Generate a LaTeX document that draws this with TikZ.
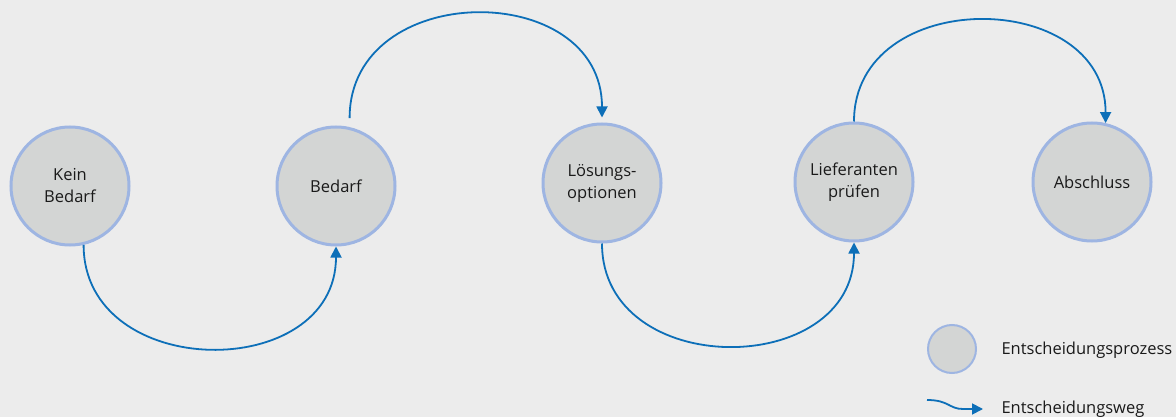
\documentclass[tikz,border=0pt]{standalone}
\usepackage{fontspec}
\setmainfont{Open Sans}
\usetikzlibrary{arrows.meta, calc}

\definecolor{bggray}{HTML}{ECECEC}
\definecolor{phasefill}{HTML}{D3D5D4}
\definecolor{phaseline}{HTML}{9EB5E2}
\definecolor{wegblue}{HTML}{0D6FB8}
\definecolor{textgray}{HTML}{1A1A1A}

\begin{document}
\begin{tikzpicture}[x=1pt, y=-1pt,
    phase/.style={circle, draw=phaseline, fill=phasefill, line width=3pt, minimum size=118pt, inner sep=0pt,
                  align=center, text=textgray, font=\fontsize{16.5}{22}\selectfont},
    weg/.style={draw=wegblue, line width=1.8pt, -{Triangle[length=11pt, width=11pt]}},
    legtext/.style={anchor=west, text=textgray, font=\fontsize{16.5}{22}\selectfont}]
    \useasboundingbox (0,0) rectangle (1176,417);
    \fill[bggray] (0,0) rectangle (1176,417);
    \node[phase] (kb) at (70,186) {Kein\\Bedarf};
    \node[phase] (bd) at (336,186) {Bedarf};
    \node[phase] (lo) at (602,183) {Lösungs-\\optionen};
    \node[phase] (li) at (854,182) {Lieferanten\\prüfen};
    \node[phase] (ab) at (1092,182) {Abschluss};
    \draw[weg] (kb.-77) .. controls +(0,137) and +(0,137) .. (bd.south);
    \draw[weg] ([yshift=9pt]bd.77) .. controls +(0,-139) and +(0,-139) .. ([yshift=5pt]lo.north);
    \draw[weg] (lo.south) .. controls +(0,137) and +(0,137) .. (li.south);
    \draw[weg] (li.north) .. controls +(0,-136) and +(0,-136) .. (ab.77);
    % Legende
    \node[phase, minimum size=48pt, line width=2pt] (lgk) at (952,349) {};
    \node[legtext] (lgkt) at (998,350) {Entscheidungsprozess};
    \coordinate (lga) at (927,400); \coordinate (lgb) at (983,409);
    \draw[weg] (lga) .. controls +(22,0) and +(-14,0) .. ++(36,9) -- (lgb);
    \node[legtext] (lgat) at (998,409) {Entscheidungsweg};
\end{tikzpicture}
\end{document}
